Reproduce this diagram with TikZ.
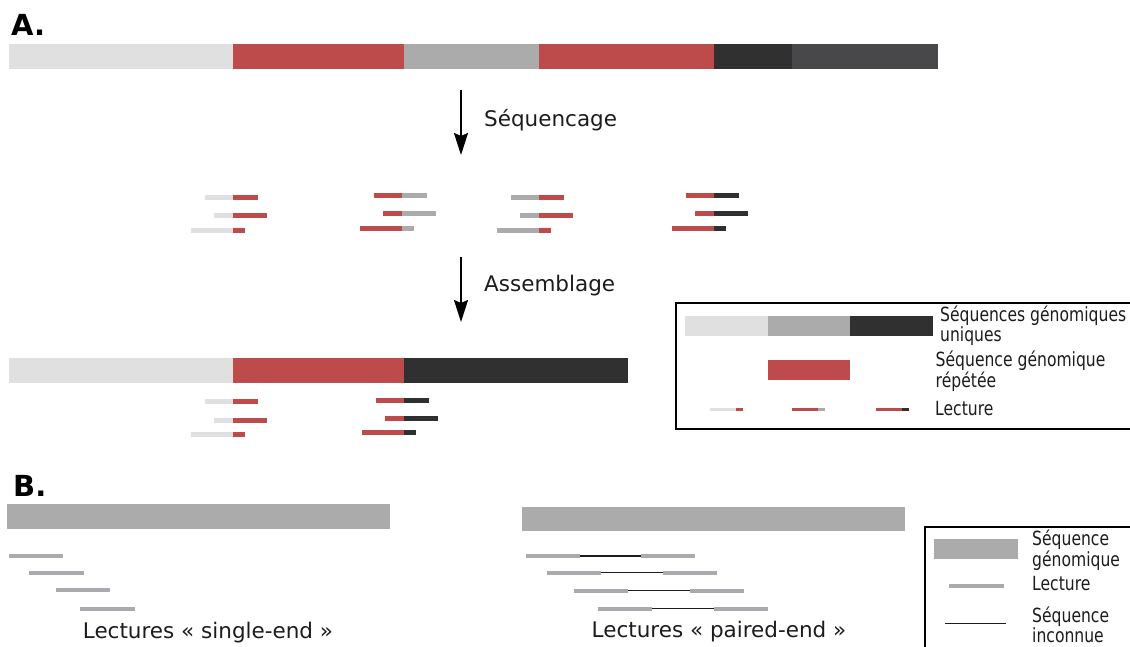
\documentclass[tikz,border=0pt]{standalone}
\usepackage{fontspec}
\setmainfont{DejaVu Sans}
\newfontfamily\legfont[FakeStretch=0.8]{DejaVu Sans}
\usepackage{tikz}
\usetikzlibrary{arrows.meta}
\definecolor{gclair}{HTML}{E0E0E0}
\definecolor{gmoyen}{HTML}{ABABAB}
\definecolor{gsombre}{HTML}{303030}
\definecolor{gardoise}{HTML}{48484A}
\definecolor{rouge}{HTML}{BE4B4B}
\definecolor{glect}{HTML}{AAAAAE}
\definecolor{texte}{HTML}{1C1C1C}
% one read: [half thickness]{left colour}{right colour}{x start}{x joint}{x end}{y}
\newcommand{\lec}[7][2.5]{\fill[#2] (#4,#7-#1) rectangle (#5,#7+#1); \fill[#3] (#5,#7-#1) rectangle (#6,#7+#1);}

\begin{document}
\begin{tikzpicture}[
  x=1pt, y=-1pt,
  titre/.style={inner sep=0pt, anchor=west, text=black, font=\bfseries\fontsize{29pt}{33pt}\selectfont},
  lbl/.style={inner sep=0pt, anchor=west, text=texte, font=\fontsize{21.5pt}{25pt}\selectfont},
  leg/.style={inner sep=0pt, anchor=west, align=left, text=texte, font=\legfont\fontsize{19.5pt}{15pt}\selectfont},
  arr/.style={-{Stealth[length=22pt,width=14pt,inset=3pt]}, line width=2pt, draw=black}
]
\useasboundingbox (0,0) rectangle (1130,646);

%% A. genome, reads, assembly
\node[titre] (ta) at (11,25) {A.};
\fill[gclair] (9,44) rectangle (233,69);
\fill[rouge] (233,44) rectangle (404,69);
\fill[gmoyen] (404,44) rectangle (539,69);
\fill[rouge] (539,44) rectangle (714,69);
\fill[gsombre] (714,44) rectangle (792,69);
\fill[gardoise] (792,44) rectangle (938,69);

\coordinate (s1) at (461,90);
\coordinate (s2) at (461,155);
\draw[arr] (s1) -- (s2);
\node[lbl] (seq) at (484,120) {Séquencage};

\foreach \j/\cl/\cr/\y in {233/gclair/rouge/197.7, 402/rouge/gmoyen/195.5, 539/gmoyen/rouge/197.7, 714/rouge/gsombre/195.5}{
  \lec{\cl}{\cr}{\j-28}{\j}{\j+25}{\y}
  \lec{\cl}{\cr}{\j-19}{\j}{\j+34}{\y+18}
  \lec{\cl}{\cr}{\j-42}{\j}{\j+12}{\y+32.6}
}

\coordinate (a1) at (461,257);
\coordinate (a2) at (461,322);
\draw[arr] (a1) -- (a2);
\node[lbl] (ass) at (484,286) {Assemblage};

\fill[gclair] (9,358) rectangle (233,383);
\fill[rouge] (233,358) rectangle (404,383);
\fill[gsombre] (404,358) rectangle (628,383);

\foreach \j/\cl/\cr/\y in {233/gclair/rouge/401.7, 403.5/rouge/gsombre/400}{
  \lec{\cl}{\cr}{\j-28}{\j}{\j+25}{\y}
  \lec{\cl}{\cr}{\j-19}{\j}{\j+34}{\y+18.3}
  \lec{\cl}{\cr}{\j-42}{\j}{\j+12}{\y+32.8}
}

% legend A
\draw[line width=2.5pt] (676,303) rectangle (1140,429);
\fill[gclair] (685,316) rectangle (768,336);
\fill[gmoyen] (768,316) rectangle (850,336);
\fill[gsombre] (850,316) rectangle (933,336);
\node[leg] (lu) at (940,326) {Séquences génomiques\\uniques};
\fill[rouge] (768,360) rectangle (850,380);
\node[leg] (lr) at (935.5,371) {Séquence génomique\\répétée};
\lec[1.5]{gclair}{rouge}{710}{735.7}{743.3}{409}
\lec[1.5]{rouge}{gmoyen}{792}{817.7}{825.3}{409}
\lec[1.5]{rouge}{gsombre}{875.7}{901.7}{909}{409}
\node[leg] (ll) at (935,409) {Lecture};

%% B. single-end / paired-end
\node[titre] (tb) at (13,486) {B.};
\fill[gmoyen] (7,504.3) rectangle (390,529.3);
\foreach \x/\y in {9/556, 29.3/572.7, 56/590.3, 80.3/608.7}
  \fill[glect] (\x,\y-2) rectangle (\x+54.4,\y+2);
\node[lbl, anchor=center] (se) at (208,632.7) {Lectures « single-end »};

\fill[gmoyen] (521.7,506.7) rectangle (905,531);
\foreach \x/\y in {525.7/556, 547.3/572.7, 574/590.7, 598.3/608.7}{
  \fill[glect] (\x,\y-2) rectangle (\x+54,\y+2);
  \draw[texte, line width=1.3pt] (\x+54,\y) -- (\x+115.5,\y);
  \fill[glect] (\x+115.5,\y-2) rectangle (\x+169.5,\y+2);
}
\node[lbl, anchor=center] (pe) at (719,631.7) {Lectures « paired-end »};

% legend B
\draw[line width=1.5pt] (925,650) -- (925,527) -- (1140,527);
\fill[gmoyen] (934.3,539.3) rectangle (1017.7,559);
\node[leg] (lg) at (1032,550) {Séquence\\génomique};
\fill[glect] (949.3,583.7) rectangle (1004.3,587.7);
\node[leg] (lc) at (1032,583.3) {Lecture};
\draw[texte, line width=1.3pt] (945,623.3) -- (1005.7,623.3);
\node[leg] (li) at (1032,625) {Séquence\\inconnue};
\end{tikzpicture}
\end{document}
